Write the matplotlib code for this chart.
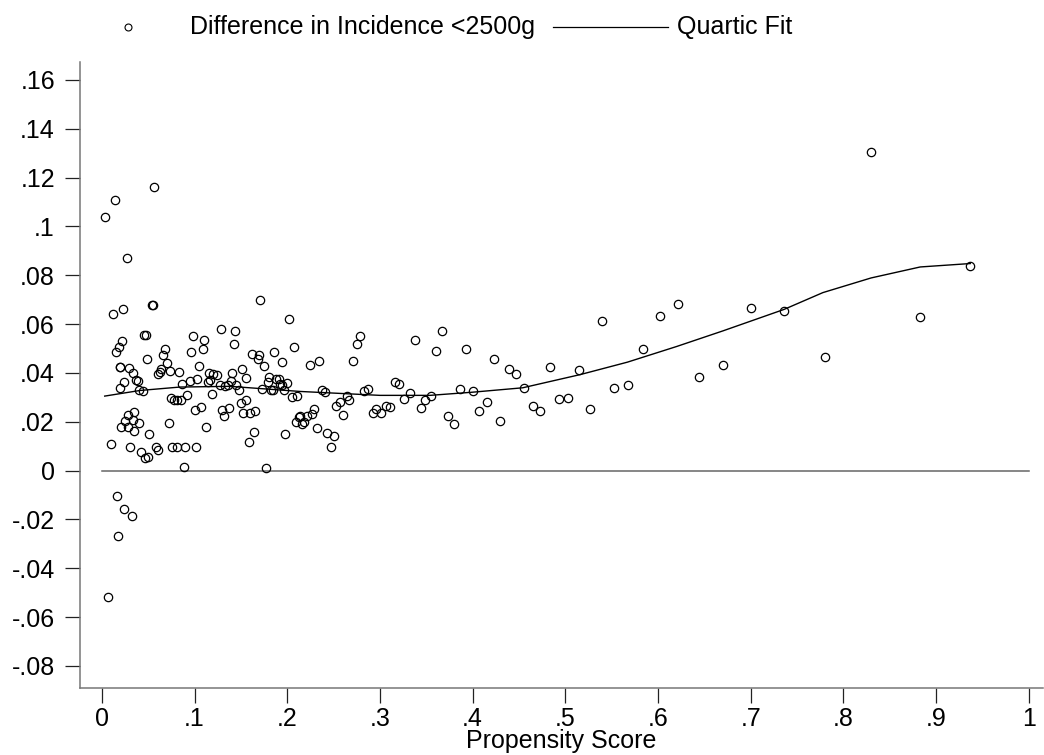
import numpy as np
import matplotlib
matplotlib.use('Agg')
import matplotlib.pyplot as plt
from matplotlib.lines import Line2D

plt.rcParams['font.family'] = ['Liberation Sans', 'DejaVu Sans']

# Scatter: propensity score vs difference in incidence
score = [
    0.003, 0.014, 0.056, 0.027, 0.054, 0.055, 0.012, 0.023, 0.171, 0.202,
    0.045, 0.048, 0.022, 0.018, 0.015, 0.049, 0.098, 0.110, 0.129, 0.144,
    0.143, 0.109, 0.096, 0.068, 0.066, 0.070, 0.064, 0.063, 0.061, 0.073,
    0.083, 0.019, 0.020, 0.029, 0.034, 0.037, 0.039, 0.024, 0.019, 0.040,
    0.044, 0.105, 0.095, 0.103, 0.086, 0.115, 0.120, 0.124, 0.140, 0.151,
    0.155, 0.162, 0.170, 0.168, 0.186, 0.194, 0.175, 0.207, 0.114, 0.117,
    0.127, 0.133, 0.136, 0.139, 0.145, 0.148, 0.173, 0.180, 0.179, 0.188,
    0.191, 0.192, 0.194, 0.200, 0.182, 0.185, 0.196, 0.205, 0.211, 0.074,
    0.078, 0.081, 0.085, 0.092, 0.119, 0.150, 0.156, 0.100, 0.107, 0.130,
    0.137, 0.132, 0.152, 0.160, 0.165, 0.035, 0.028, 0.025, 0.033, 0.028,
    0.021, 0.040, 0.035, 0.051, 0.072, 0.112, 0.164, 0.159, 0.198, 0.209,
    0.213, 0.010, 0.030, 0.042, 0.046, 0.050, 0.058, 0.060, 0.076, 0.081,
    0.090, 0.101, 0.089, 0.177, 0.016, 0.024, 0.032, 0.017, 0.0065,
    0.214, 0.216, 0.218, 0.221, 0.227, 0.229, 0.232, 0.224, 0.234, 0.238,
    0.241, 0.243, 0.250, 0.247, 0.253, 0.257, 0.260, 0.264, 0.267, 0.271,
    0.275, 0.279, 0.283, 0.287, 0.292, 0.296, 0.301, 0.306, 0.311, 0.316,
    0.321, 0.326, 0.332, 0.338, 0.344, 0.349, 0.355, 0.361, 0.367, 0.373,
    0.380, 0.386, 0.393, 0.400, 0.407, 0.415, 0.423, 0.430, 0.439, 0.447,
    0.455, 0.465, 0.473, 0.483, 0.493, 0.503, 0.515, 0.527, 0.540, 0.553,
    0.568, 0.584, 0.602, 0.622, 0.644, 0.670, 0.700, 0.736, 0.780, 0.830,
    0.883, 0.937,
]
diff = [
    0.104, 0.111, 0.116, 0.087, 0.068, 0.068, 0.064, 0.066, 0.070, 0.062,
    0.0554, 0.0554, 0.053, 0.0506, 0.0484, 0.0458, 0.055, 0.0536, 0.0578, 0.057,
    0.0517, 0.0496, 0.0484, 0.0496, 0.0472, 0.0442, 0.0414, 0.0403, 0.0394, 0.0407,
    0.0403, 0.0424, 0.0424, 0.042, 0.040, 0.0372, 0.0366, 0.0362, 0.0339, 0.0328,
    0.0325, 0.0427, 0.0368, 0.0376, 0.0354, 0.0401, 0.0394, 0.039, 0.040, 0.0417,
    0.038, 0.0476, 0.0472, 0.0458, 0.0485, 0.0444, 0.0427, 0.0507, 0.0362, 0.0369,
    0.0351, 0.0346, 0.0351, 0.0366, 0.0349, 0.0332, 0.0336, 0.0383, 0.0362, 0.0376,
    0.0376, 0.0356, 0.0351, 0.0358, 0.0331, 0.0328, 0.0331, 0.030, 0.0304, 0.0298,
    0.0291, 0.0287, 0.029, 0.031, 0.0312, 0.0276, 0.0287, 0.0246, 0.026, 0.0246,
    0.0257, 0.0223, 0.0235, 0.0237, 0.0242, 0.0239, 0.0226, 0.0202, 0.0209, 0.018,
    0.0178, 0.0196, 0.016, 0.015, 0.0196, 0.0178, 0.0156, 0.0116, 0.0148, 0.020,
    0.0219, 0.011, 0.0098, 0.0078, 0.005, 0.0057, 0.0098, 0.0085, 0.0098, 0.0098,
    0.0098, 0.0098, 0.0016, 0.001, -0.0104, -0.0157, -0.0185, -0.0268, -0.052,
    0.0222, 0.0189, 0.0197, 0.0224, 0.0232, 0.0253, 0.0174, 0.0431, 0.0447, 0.0332,
    0.032, 0.0152, 0.0141, 0.0096, 0.0263, 0.0279, 0.0227, 0.0304, 0.029, 0.045,
    0.0518, 0.0553, 0.0324, 0.0335, 0.0237, 0.0252, 0.0237, 0.0265, 0.026, 0.0364,
    0.0354, 0.0294, 0.0317, 0.0536, 0.0258, 0.0287, 0.0304, 0.049, 0.057, 0.0222,
    0.0191, 0.0334, 0.0499, 0.0324, 0.0245, 0.0279, 0.0457, 0.0202, 0.0416, 0.0394,
    0.0339, 0.0265, 0.0243, 0.0425, 0.0293, 0.0297, 0.041, 0.0253, 0.0613, 0.0339,
    0.0351, 0.0499, 0.0633, 0.0684, 0.0383, 0.0431, 0.0667, 0.0654, 0.0465, 0.1305,
    0.0628, 0.0836,
]

# Quartic fit line, read at points along the curve
fit_x = [0.003, 0.041, 0.084, 0.138, 0.192, 0.214, 0.300, 0.354, 0.400, 0.454,
         0.516, 0.567, 0.620, 0.670, 0.736, 0.778, 0.830, 0.883, 0.937]
fit_y = [0.0305, 0.0328, 0.0342, 0.0345, 0.0330, 0.0324, 0.0308, 0.0308, 0.0321, 0.0339,
         0.0393, 0.0444, 0.0508, 0.0572, 0.0660, 0.0729, 0.0789, 0.0834, 0.0848]

xticks = [0, .1, .2, .3, .4, .5, .6, .7, .8, .9, 1]
xtick_labels = ['0', '.1', '.2', '.3', '.4', '.5', '.6', '.7', '.8', '.9', '1']
yticks = [-.08, -.06, -.04, -.02, 0, .02, .04, .06, .08, .1, .12, .14, .16]
ytick_labels = ['-.08', '-.06', '-.04', '-.02', '0', '.02', '.04', '.06', '.08',
                '.1', '.12', '.14', '.16']

fs = 18

fig = plt.figure(figsize=(10.44, 7.55), dpi=100)
ax = fig.add_axes([0.0766, 0.089, 0.922, 0.829])

ax.plot([0, 1], [0, 0], color='#666666', lw=1.1, zorder=1)
ax.plot(score, diff, linestyle='none', marker='o', ms=6.0, mfc='none',
        mec='black', mew=0.9, zorder=3)
ax.plot(fit_x, fit_y, color='black', lw=1.0, zorder=4)

ax.set_xlim(-0.0237, 1.015)
ax.set_ylim(-0.089, 0.1674)
ax.set_xticks(xticks)
ax.set_xticklabels(xtick_labels)
ax.set_yticks(yticks)
ax.set_yticklabels(ytick_labels)
ax.tick_params(direction='out', length=11, width=0.9, labelsize=fs,
               color='#222222')
ax.tick_params(axis='y', pad=7)
ax.tick_params(axis='x', pad=3)
for side in ['top', 'right']:
    ax.spines[side].set_visible(False)
for side in ['left', 'bottom']:
    ax.spines[side].set_color('#777777')
    ax.spines[side].set_linewidth(1.1)
ax.set_xlabel('Propensity Score', fontsize=fs, labelpad=-1.5)

# legend along the top, Stata style
ly = 1 - 27 / 755
fig.add_artist(Line2D([128 / 1044], [ly], marker='o', ms=5, mfc='none',
                      mec='black', mew=0.8, transform=fig.transFigure))
fig.text(190 / 1044, ly, 'Difference in Incidence <2500g', fontsize=fs,
         va='center', ha='left')
fig.add_artist(Line2D([553 / 1044, 668 / 1044], [ly, ly],
                      color='black', lw=0.9, transform=fig.transFigure))
fig.text(677 / 1044, ly, 'Quartic Fit', fontsize=fs, va='center', ha='left')

fig.savefig('out.png', dpi=100, facecolor='white')
